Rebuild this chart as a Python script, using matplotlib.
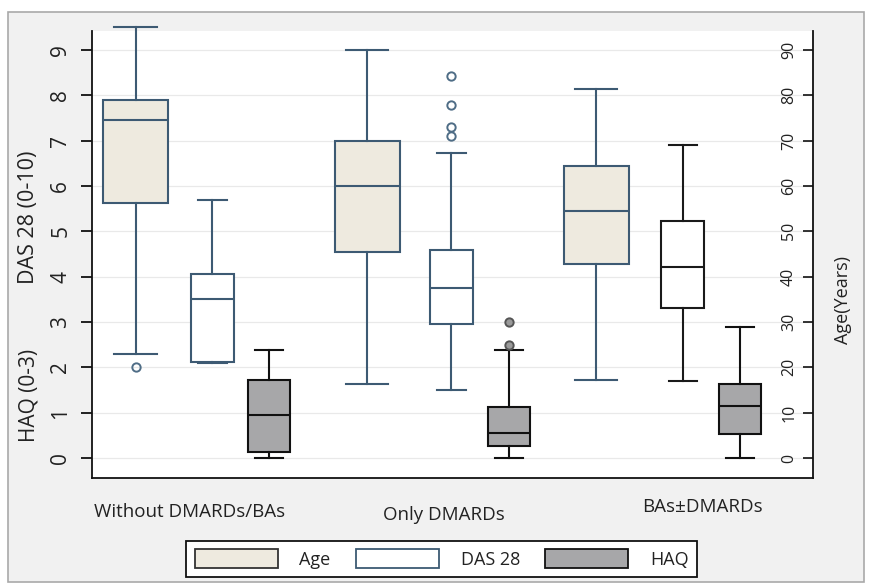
import matplotlib
matplotlib.use('Agg')
import matplotlib.pyplot as plt
from matplotlib.patches import Rectangle, Patch
from matplotlib.transforms import blended_transform_factory

plt.rcParams['font.family'] = ['Open Sans', 'DejaVu Sans']
plt.rcParams['text.color'] = '#222222'

# Groups
groups = ['Without DMARDs/BAs', 'Only DMARDs', 'BAs\u00b1DMARDs']

# Age (years) box stats
age_lo = [23.0, 16.3, 17.2]
age_q1 = [56.2, 45.4, 42.9]
age_med = [74.5, 59.9, 54.4]
age_q3 = [78.9, 69.9, 64.4]
age_hi = [95.0, 90.0, 81.4]
age_out = [[20.0], [], []]

# DAS 28 (0-10)
das_lo = [2.10, 1.50, 1.70]
das_q1 = [2.12, 2.95, 3.30]
das_med = [3.50, 3.74, 4.22]
das_q3 = [4.05, 4.58, 5.22]
das_hi = [5.70, 6.72, 6.90]
das_out = [[], [8.43, 7.78, 7.30, 7.10], []]

# HAQ (0-3)
haq_lo = [0.0, 0.0, 0.0]
haq_q1 = [0.13, 0.26, 0.52]
haq_med = [0.95, 0.55, 1.15]
haq_q3 = [1.72, 1.12, 1.63]
haq_hi = [2.38, 2.38, 2.89]
haq_out = [[], [3.0, 2.5], []]

# layout: box centres / widths (x axis in pixel-like units)
age_pos = [43.5, 275, 504]
das_pos = [120.5, 359.5, 591]
haq_pos = [177, 417, 648]
age_w, das_w, haq_w = 65, 43, 42
label_x = [98, 352, 610]
label_y = [-0.076, -0.083, -0.065]

slate = '#3d5a73'
das_edge = [slate, slate, '#1a1a1a']

fig = plt.figure(figsize=(8.7, 5.87), dpi=100, facecolor='white')
fig.patches.append(Rectangle((8 / 870, 5 / 587), 856 / 870, 570 / 587,
                             transform=fig.transFigure, facecolor='#f1f1f1',
                             edgecolor='#a9a9a9', linewidth=1.2, zorder=-10))

ax = fig.add_axes([92 / 870, 1 - 478 / 587, 721 / 870, 447 / 587])
ax.set_facecolor('white')
ax2 = ax.twinx()
ax.set_xlim(0, 721)
ax.set_ylim(-0.441, 9.419)
ax2.set_ylim(-4.41, 94.19)


def stats(lo, q1, med, q3, hi, out):
    return [{'whislo': lo, 'q1': q1, 'med': med, 'q3': q3, 'whishi': hi, 'fliers': out}]


def draw(target, st, pos, w, face, edge, flier_face, flier_edge):
    lw = 1.5
    target.bxp(st, positions=[pos], widths=w, capwidths=w * 0.66, patch_artist=True,
               manage_ticks=False,
               boxprops=dict(facecolor=face, edgecolor=edge, linewidth=lw),
               whiskerprops=dict(color=edge, linewidth=lw),
               capprops=dict(color=edge, linewidth=lw),
               medianprops=dict(color=edge, linewidth=lw),
               flierprops=dict(marker='o', markersize=6, markerfacecolor=flier_face,
                               markeredgecolor=flier_edge, markeredgewidth=1.4))


for i in range(3):
    draw(ax2, stats(age_lo[i], age_q1[i], age_med[i], age_q3[i], age_hi[i], age_out[i]),
         age_pos[i], age_w, '#eeeadf', slate, 'none', '#4f6d86')
    draw(ax, stats(das_lo[i], das_q1[i], das_med[i], das_q3[i], das_hi[i], das_out[i]),
         das_pos[i], das_w, 'white', das_edge[i], 'none', '#4f6d86')
    draw(ax, stats(haq_lo[i], haq_q1[i], haq_med[i], haq_q3[i], haq_hi[i], haq_out[i]),
         haq_pos[i], haq_w, '#a7a7a9', '#111111', '#9a9a9a', '#555555')

for a in (ax, ax2):
    for art in a.lines + a.patches:
        art.set_clip_on(False)

# grid
ax.set_yticks(range(10))
ax.grid(axis='y', color='#e9e9e9', linewidth=0.9)
ax.set_axisbelow(True)
ax.set_xticks([])

ax.spines['top'].set_visible(False)
ax2.spines['top'].set_visible(False)
ax.spines['right'].set_visible(False)
for s in ('left', 'bottom'):
    ax.spines[s].set_color('#111111')
    ax.spines[s].set_linewidth(1.3)
ax2.spines['right'].set_color('#111111')
ax2.spines['right'].set_linewidth(1.3)
ax2.spines['left'].set_visible(False)
ax2.spines['bottom'].set_visible(False)

ax.tick_params(axis='y', direction='out', length=8, width=1.3, color='#111111',
               pad=7, labelsize=15, labelrotation=90, labelcolor='#222222')
ax2.set_yticks(range(0, 100, 10))
ax2.tick_params(axis='y', direction='in', length=7, width=1.2, color='#111111',
                pad=-23, labelsize=11.5, labelrotation=90, labelcolor='#222222')
for t in ax.get_yticklabels():
    t.set_va('center')
for t in ax2.get_yticklabels():
    t.set_va('center')

# axis titles
fig.text(29 / 870, 1 - 217 / 587, 'DAS 28 (0-10)', rotation=90, ha='center', va='center', fontsize=15.5)
fig.text(29 / 870, 1 - 395 / 587, 'HAQ (0-3)', rotation=90, ha='center', va='center', fontsize=15)
fig.text(843 / 870, 1 - 300 / 587, 'Age(Years)', rotation=90, ha='center', va='center', fontsize=13)

# category labels
tr = blended_transform_factory(ax.transData, ax.transAxes)
for g, x, y in zip(groups, label_x, label_y):
    ax.text(x, y, g, transform=tr, ha='center', va='center', fontsize=13.5)

handles = [Patch(facecolor='#eeeadf', edgecolor='#333333', linewidth=1.3, label='Age'),
           Patch(facecolor='white', edgecolor=slate, linewidth=1.3, label='DAS 28'),
           Patch(facecolor='#a7a7a9', edgecolor='#111111', linewidth=1.3, label='HAQ')]
leg = fig.legend(handles=handles, loc='center', bbox_to_anchor=(441.5 / 870, 1 - 559 / 587),
                 ncol=3, fontsize=13, handlelength=4.6, handleheight=1.2, handletextpad=1.2,
                 columnspacing=1.4, borderpad=0.45, fancybox=False, framealpha=1)
leg.get_frame().set_edgecolor('#111111')
leg.get_frame().set_linewidth(1.3)

fig.savefig('out.png', dpi=100, facecolor='white')
